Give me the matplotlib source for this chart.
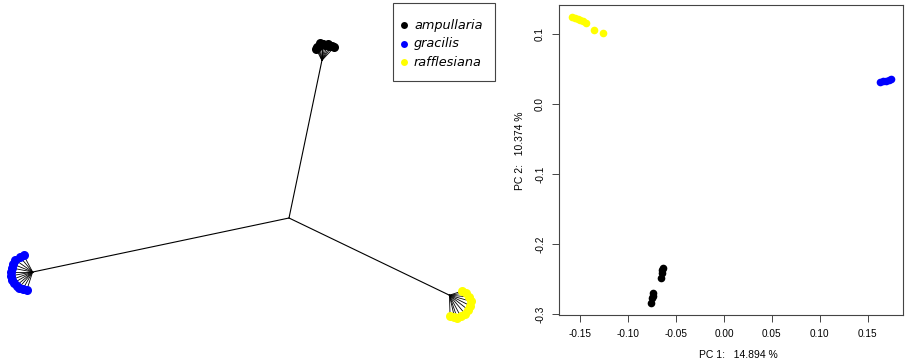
import numpy as np
import matplotlib.pyplot as plt
from matplotlib.patches import Rectangle

species = ['ampullaria', 'gracilis', 'rafflesiana']
colors = ['black', 'blue', '#FFFF00']

# unrooted tree: internal branch (length, angle in degrees) from the central node
branch_len = [161, 262, 178]
branch_ang = [78.2, 191.9, -25.7]

# tip branches per species: angle (deg) and length
tip_ang = [
    [47, 55, 62, 70, 78, 85, 90, 96, 103, 110, 117],
    [118, 130, 145, 158, 169, 180, 190, 200, 210, 220, 229, 240, 252],
    [18, 8, -5, -16, -27, -38, -50, -62, -71, -77, -88],
]
tip_len = [
    [18, 17, 16, 17, 16, 16, 16, 17, 15, 14, 13],
    [19, 20, 21, 21, 21, 22, 22, 22, 22, 21, 21, 20, 19],
    [13, 17, 20, 22, 23, 24, 24, 24, 24, 22, 21],
]

# PCA scores
pc1 = [
    [-0.0634, -0.0642, -0.0650, -0.0661, -0.0738, -0.0746, -0.0755, -0.0765],
    [0.1628, 0.1660, 0.1691, 0.1722, 0.1743],
    [-0.1587, -0.1555, -0.1524, -0.1503, -0.1472, -0.1441, -0.1357, -0.1263],
]
pc2 = [
    [-0.2343, -0.2374, -0.2414, -0.2486, -0.2700, -0.2739, -0.2771, -0.2834],
    [0.0319, 0.0333, 0.0340, 0.0347, 0.0361],
    [0.1247, 0.1233, 0.1219, 0.1204, 0.1190, 0.1161, 0.1061, 0.1019],
]
var1, var2 = 14.894, 10.374

plt.rcParams['font.family'] = ['Liberation Sans', 'DejaVu Sans']

fig = plt.figure(figsize=(9.1, 3.63), dpi=100)

# ---- left: unrooted tree (units = pixels, origin at the central node) ----
ax1 = fig.add_axes([0, 0, 500 / 910, 1])
ax1.set_xlim(-289, 211)
ax1.set_ylim(-145, 218)
ax1.axis('off')
for i in range(3):
    a = np.deg2rad(branch_ang[i])
    nx, ny = branch_len[i] * np.cos(a), branch_len[i] * np.sin(a)
    ax1.plot([0, nx], [0, ny], color='black', lw=0.8)
    ta = np.deg2rad(np.array(tip_ang[i]))
    tl = np.array(tip_len[i])
    tx = nx + tl * np.cos(ta)
    ty = ny + tl * np.sin(ta)
    for x, y in zip(tx, ty):
        ax1.plot([nx, x], [ny, y], color='black', lw=0.6)
    ax1.plot(tx, ty, 'o', color=colors[i], ms=6.5, mec='none', zorder=3)

# legend box drawn by hand
ax1.add_patch(Rectangle((104, 137), 102, 78, fill=False, edgecolor='#444444', lw=0.8,
                        clip_on=False))
for i, (name, c) in enumerate(zip(species, colors)):
    yy = 193 - i * 18.5
    ax1.plot(115, yy, 'o', color=c, ms=5, mec='none', clip_on=False)
    ax1.text(125, yy, name, fontsize=9.3, style='italic', family='DejaVu Sans',
             va='center', ha='left')

# ---- right: PCA ----
ax2 = fig.add_axes([559 / 910, 48 / 363, 344 / 910, 310 / 363])
for i in range(3):
    ax2.plot(pc1[i], pc2[i], 'o', color=colors[i], ms=5.5, mec='none')
ax2.set_xlim(-0.1722, 0.1868)
ax2.set_ylim(-0.301, 0.1419)
xt = np.arange(-0.15, 0.151, 0.05)
ax2.set_xticks(xt)
ax2.set_xticklabels(['%.2f' % v for v in xt])
yt = np.arange(-0.3, 0.101, 0.1)
ax2.set_yticks(yt)
ax2.set_yticklabels(['%.1f' % v for v in yt], rotation=90, va='center')
ax2.tick_params(labelsize=7.2, length=5, width=0.7, pad=5, color='#444444')
for s in ax2.spines.values():
    s.set_linewidth(0.8)
    s.set_color('#444444')
ax2.set_xlabel('PC 1:   %.3f %%' % var1, fontsize=7.5)
ax2.set_ylabel('PC 2:   %.3f %%' % var2, fontsize=7.5)
ax2.xaxis.set_label_coords(0.52, -0.113)
ax2.yaxis.set_label_coords(-0.099, 0.53)

fig.savefig('out.png', dpi=100)
